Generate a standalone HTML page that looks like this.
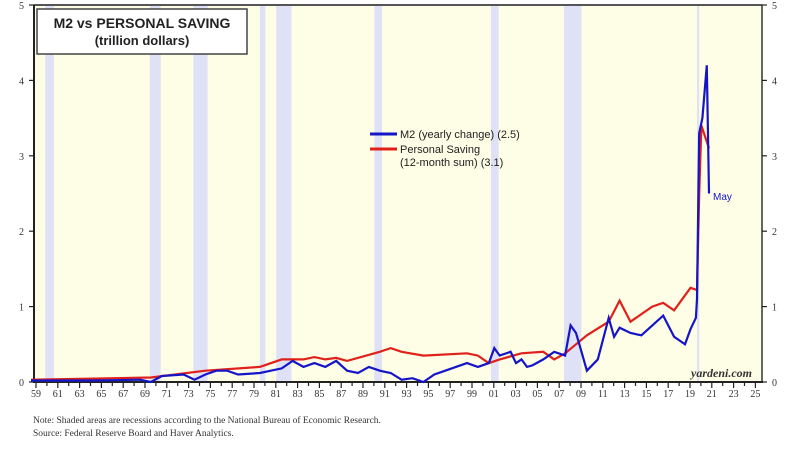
<!DOCTYPE html>
<html><head><meta charset="utf-8"><style>
body{margin:0;background:#fff;width:800px;height:455px;overflow:hidden;font-family:"Liberation Serif",serif}
</style></head><body>
<svg id="s" width="800" height="455" xmlns="http://www.w3.org/2000/svg">
<rect x="34" y="5" width="728" height="377" fill="#fefde6"/>
<g id="rec" fill="#dfe1f6"></g>
<line x1="34" y1="5" x2="762" y2="5" stroke="#555" stroke-width="2"/>
<line x1="34" y1="5" x2="34" y2="383" stroke="#222" stroke-width="2"/>
<line x1="762" y1="5" x2="762" y2="383" stroke="#333" stroke-width="1.5"/>
<line x1="33" y1="382" x2="763" y2="382" stroke="#222" stroke-width="2"/>
<g id="ticks" stroke="#222" stroke-width="1.2"></g>
<g id="lab" font-size="10" fill="#333"></g>
<rect x="37" y="9" width="210" height="45" fill="#fff" stroke="#444" stroke-width="1.5"/>
<text x="142" y="28" text-anchor="middle" font-family="Liberation Sans,sans-serif" font-weight="bold" font-size="14" fill="#222">M2 vs PERSONAL SAVING</text>
<text x="142" y="45" text-anchor="middle" font-family="Liberation Sans,sans-serif" font-weight="bold" font-size="13" fill="#222">(trillion dollars)</text>
<g font-family="Liberation Sans,sans-serif" font-size="11" fill="#222">
<line x1="370" y1="134" x2="397" y2="134" stroke="#1515c8" stroke-width="3"/>
<text x="400" y="138">M2 (yearly change) (2.5)</text>
<line x1="370" y1="149" x2="397" y2="149" stroke="#e0201a" stroke-width="3"/>
<text x="400" y="153">Personal Saving</text>
<text x="400" y="166">(12-month sum) (3.1)</text>
<text x="713" y="200" fill="#1515c8" font-size="10">May</text>
</g>
<text x="752" y="377" text-anchor="end" font-style="italic" font-weight="bold" font-size="12" fill="#333">yardeni.com</text>
<polyline id="ps" fill="none" stroke="#e0201a" stroke-width="2.2"/>
<polyline id="m2" fill="none" stroke="#1515c8" stroke-width="2.2"/>
<text x="33" y="423" font-size="9.5" fill="#333">Note: Shaded areas are recessions according to the National Bureau of Economic Research.</text>
<text x="33" y="436" font-size="9.5" fill="#333">Source: Federal Reserve Board and Haver Analytics.</text>
</svg>
<script>
const X=y=>36+(y-1959)*10.9, XD=y=>X(y)-5, Y=v=>382-75.4*v, NS="http://www.w3.org/2000/svg";
function el(p,t,a){const e=document.createElementNS(NS,t);for(const k in a)e.setAttribute(k,a[k]);document.getElementById(p).appendChild(e);return e;}
[[1960.3,1961.1],[1969.9,1970.9],[1973.9,1975.2],[1980,1980.5],[1981.5,1982.9],[1990.5,1991.2],[2001.2,2001.9],[2007.9,2009.5],[2020.1,2020.3]].forEach(r=>el("rec","rect",{x:XD(r[0]),y:6,width:X(r[1])-X(r[0]),height:376}));
for(let y=1959;y<=2025;y++){el("ticks","line",{x1:X(y),y1:382,x2:X(y),y2:(y%2?388:386)});
 if(y%2){const t=el("lab","text",{x:X(y),y:397,"text-anchor":"middle"});t.textContent=String(y%100).padStart(2,"0");}}
for(let v=0;v<=5;v++){el("ticks","line",{x1:29,y1:Y(v),x2:34,y2:Y(v)});el("ticks","line",{x1:762,y1:Y(v),x2:767,y2:Y(v)});
 let t=el("lab","text",{x:24,y:Y(v)+4,"text-anchor":"end"});t.textContent=v;
 t=el("lab","text",{x:772,y:Y(v)+4});t.textContent=v;}
const m2=[[1959,.02],[1965,.02],[1969,.03],[1970,0],[1971,.08],[1973,.1],[1974,.03],[1975,.1],[1976,.15],[1977,.15],[1978,.1],[1980,.12],[1981,.15],[1982,.18],[1983,.28],[1984,.2],[1985,.25],[1986,.2],[1987,.28],[1988,.15],[1989,.12],[1990,.2],[1991,.15],[1992,.12],[1993,.03],[1994,.05],[1995,0],[1996,.1],[1997,.15],[1999,.25],[2000,.2],[2001,.25],[2001.5,.45],[2002,.35],[2003,.4],[2003.5,.25],[2004,.3],[2004.5,.2],[2005,.22],[2006,.3],[2007,.4],[2008,.35],[2008.5,.75],[2009,.65],[2009.5,.4],[2010,.15],[2011,.3],[2012,.85],[2012.5,.6],[2013,.72],[2014,.65],[2015,.62],[2016,.75],[2017,.88],[2018,.6],[2019,.5],[2019.5,.7],[2020,.85],[2020.1,1.1],[2020.3,3.3],[2020.6,3.5],[2021,4.2],[2021.2,2.5]];
const ps=[[1959,.03],[1970,.06],[1975,.15],[1980,.2],[1982,.3],[1984,.3],[1985,.33],[1986,.3],[1987,.32],[1988,.28],[1991,.4],[1992,.45],[1993,.4],[1995,.35],[1999,.38],[2000,.35],[2001,.25],[2002,.3],[2004,.38],[2006,.4],[2007,.3],[2008,.38],[2009,.5],[2010,.62],[2012,.8],[2013,1.08],[2014,.8],[2016,1],[2017,1.05],[2018,.95],[2019.5,1.25],[2020.1,1.22],[2020.3,2.5],[2020.5,3.4],[2021.2,3.1]];
const pts=a=>a.map(p=>XD(p[0]).toFixed(1)+","+Y(p[1]).toFixed(1)).join(" ");
document.getElementById("m2").setAttribute("points",pts(m2));
document.getElementById("ps").setAttribute("points",pts(ps));
</script>
</body></html>
